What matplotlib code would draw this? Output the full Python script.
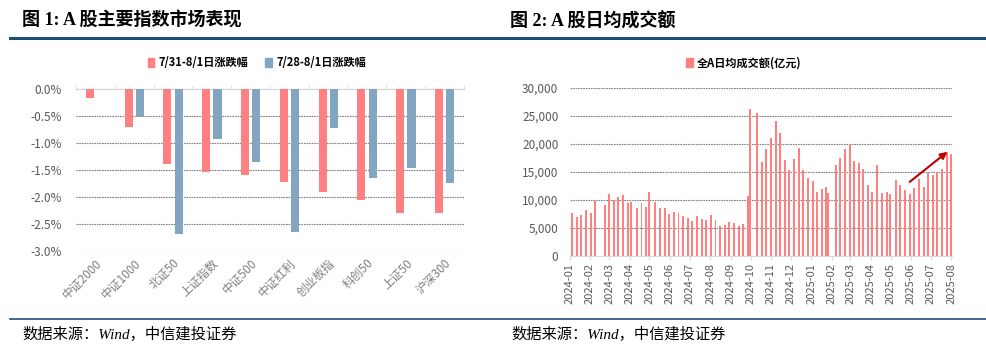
import matplotlib
matplotlib.use("Agg")
import matplotlib.pyplot as plt
import matplotlib.dates as mdates
from matplotlib.patches import Patch
import numpy as np
import pandas as pd

plt.rcParams['font.family'] = ['Noto Sans CJK SC', 'DejaVu Sans']
plt.rcParams['axes.unicode_minus'] = False

# ---- chart 1: index returns (%)
indices = ['中证2000', '中证1000', '北证50', '上证指数', '中证500',
           '中证红利', '创业板指', '科创50', '上证50', '沪深300']
chg_day = [-0.17, -0.70, -1.38, -1.53, -1.60, -1.72, -1.90, -2.05, -2.30, -2.30]
chg_week = [0.00, -0.52, -2.69, -0.92, -1.35, -2.64, -0.73, -1.64, -1.47, -1.74]
label_day = '7/31-8/1日涨跌幅'
label_week = '7/28-8/1日涨跌幅'

# ---- chart 2: weekly average turnover (亿元)
week_end = [
    '2024-01-05', '2024-01-12', '2024-01-19', '2024-01-26', '2024-02-02', '2024-02-08',
    '2024-02-23', '2024-03-01', '2024-03-08', '2024-03-15', '2024-03-22', '2024-03-29',
    '2024-04-03', '2024-04-12', '2024-04-19', '2024-04-26', '2024-04-30', '2024-05-10',
    '2024-05-17', '2024-05-24', '2024-05-31', '2024-06-07', '2024-06-14', '2024-06-21',
    '2024-06-28', '2024-07-05', '2024-07-12', '2024-07-19', '2024-07-26', '2024-08-02',
    '2024-08-09', '2024-08-16', '2024-08-23', '2024-08-30', '2024-09-06', '2024-09-13',
    '2024-09-20', '2024-09-27', '2024-09-30', '2024-10-11', '2024-10-18', '2024-10-25',
    '2024-11-01', '2024-11-08', '2024-11-15', '2024-11-22', '2024-11-29', '2024-12-06',
    '2024-12-13', '2024-12-20', '2024-12-27', '2025-01-03', '2025-01-10', '2025-01-17',
    '2025-01-24', '2025-01-27', '2025-02-07', '2025-02-14', '2025-02-21', '2025-02-28',
    '2025-03-07', '2025-03-14', '2025-03-21', '2025-03-28', '2025-04-03', '2025-04-11',
    '2025-04-18', '2025-04-25', '2025-04-30', '2025-05-09', '2025-05-16', '2025-05-23',
    '2025-05-30', '2025-06-06', '2025-06-13', '2025-06-20', '2025-06-27', '2025-07-04',
    '2025-07-11', '2025-07-18', '2025-07-25', '2025-08-01',
]
turnover = [
    7540, 6950, 7190, 8080, 7540, 9800,
    9090, 11050, 9980, 10450, 10870, 9440,
    9620, 8430, 9440, 8610, 11290, 9560,
    8550, 8550, 7480, 7780, 7540, 7130,
    6700, 6120, 7010, 6530, 6360, 7190,
    6420, 5290, 5410, 6000, 5820, 5230,
    5640, 10630, 26140, 25480, 16690, 19130,
    20970, 24000, 21920, 17110, 15330, 17350,
    19310, 15330, 13800, 13370, 11400, 12000,
    12300, 11230, 16160, 17520, 19070, 19960,
    16990, 16510, 15440, 12590, 11350, 16160,
    11110, 11460, 11050, 13600, 12590, 11760,
    10930, 12060, 13660, 12240, 14850, 14430,
    14970, 15440, 18530, 18180,
]
label_turnover = '全A日均成交额(亿元)'

RED = '#FF8080'
BLUE = '#82A6BF'
GRID = '#7F7F7F'
TXT = '#595959'
NAVY = '#1B4F7A'

fig = plt.figure(figsize=(9.87, 3.53), dpi=100)

title_font = ['Liberation Serif', 'Noto Sans CJK SC']
fig.text(22 / 987, 1 - 21 / 353, '图 1: A 股主要指数市场表现', family=title_font,
         fontsize=13, fontweight='bold', va='center', ha='left', color='black')
fig.text(510 / 987, 1 - 21 / 353, '图 2: A 股日均成交额', family=title_font,
         fontsize=13, fontweight='bold', va='center', ha='left', color='black')

# header / footer rules
fig.add_artist(plt.Line2D([10 / 987, 1.0], [1 - 38 / 353] * 2, color=NAVY, lw=2.2))
fig.add_artist(plt.Line2D([10 / 987, 1.0], [1 - 319 / 353] * 2, color=NAVY, lw=1.2))
for xs in (22, 511):
    fig.text(xs / 987, 1 - 334 / 353, '数据来源：Wind，中信建投证券', family=title_font,
             fontsize=11, style='italic', va='center', ha='left', color='black')

# ---------------- left chart
ax1 = fig.add_axes([76 / 987, 1 - 251 / 353, 388 / 987, 162 / 353])
x = np.arange(len(indices))
w = 0.21
ax1.bar(x - 0.145, chg_day, w, color=RED, label=label_day, zorder=3)
ax1.bar(x + 0.145, chg_week, w, color=BLUE, label=label_week, zorder=3)
ax1.set_xlim(-0.5, len(indices) - 0.5)
ax1.set_ylim(-3.0, 0.0)
ax1.set_yticks(np.arange(-3.0, 0.01, 0.5))
ax1.set_yticklabels([f'{v:.1f}%' for v in np.arange(-3.0, 0.01, 0.5)])
for v in np.arange(-3.0, -0.01, 0.5):
    ax1.axhline(v, color=GRID, lw=0.8, ls=(0, (1.5, 0.8)), zorder=1)
for s in ['left', 'right', 'bottom']:
    ax1.spines[s].set_visible(False)
ax1.spines['top'].set_color('#D9D9D9')
ax1.spines['top'].set_linewidth(1.0)
ax1.set_xticks(x)
ax1.set_xticklabels(indices, rotation=45, ha='right', rotation_mode='anchor')
ax1.set_xticks(np.arange(-0.5, len(indices), 1.0), minor=True)
ax1.tick_params(axis='x', which='major', length=0, labelsize=8.5, labelcolor='#7F7F7F', pad=4)
ax1.tick_params(axis='x', which='minor', top=True, bottom=False, length=3,
                color='#D9D9D9', direction='out')
ax1.tick_params(axis='y', length=0, labelsize=8.5, labelcolor=TXT, pad=10)

fig.legend(handles=[Patch(color=RED), Patch(color=BLUE)], labels=[label_day, label_week],
           loc='center', bbox_to_anchor=(257 / 987, 1 - 63 / 353), ncol=2, frameon=False,
           handlelength=0.6, handleheight=0.9, handletextpad=0.4,
           columnspacing=1.5, prop={'weight': 'bold', 'size': 8})

# ---------------- right chart
ax2 = fig.add_axes([569.5 / 987, 1 - 255.7 / 353, 382.5 / 987, 168 / 353])
dates = pd.to_datetime(week_end)
ax2.bar(dates, turnover, width=3.0, color=RED, label=label_turnover, zorder=3)
ax2.set_xlim(mdates.date2num(pd.Timestamp('2024-01-01')),
             mdates.date2num(pd.Timestamp('2025-08-01')) + 1.0)
ax2.set_ylim(0, 30000)
ax2.set_yticks(np.arange(0, 30001, 5000))
ax2.yaxis.set_major_formatter(matplotlib.ticker.FuncFormatter(lambda v, p: f'{int(v):,}'))
for v in np.arange(5000, 30001, 5000):
    ax2.axhline(v, color=GRID, lw=0.8, ls=(0, (1.5, 0.8)), zorder=1)
for s in ['left', 'right', 'top']:
    ax2.spines[s].set_visible(False)
ax2.spines['bottom'].set_color('#D9D9D9')
ax2.xaxis.set_major_locator(mdates.MonthLocator())
ax2.xaxis.set_major_formatter(mdates.DateFormatter('%Y-%m'))
ax2.tick_params(axis='x', length=3, color='#D9D9D9', labelsize=8, labelcolor=TXT,
                rotation=90, pad=2)
ax2.tick_params(axis='y', length=0, labelsize=8.5, labelcolor=TXT, pad=8)

ax2.annotate('', xy=(pd.Timestamp('2025-07-26'), 18550),
             xytext=(pd.Timestamp('2025-05-30'), 13180),
             arrowprops=dict(arrowstyle='-|>', color='#C00000', lw=1.5,
                             mutation_scale=10, shrinkA=0, shrinkB=0), zorder=5)

fig.legend(handles=[Patch(color=RED)], labels=[label_turnover],
           loc='center', bbox_to_anchor=(744 / 987, 1 - 63 / 353), frameon=False,
           handlelength=0.6, handleheight=0.9, handletextpad=0.4,
           prop={'weight': 'bold', 'size': 8})

fig.savefig('out.png', dpi=100)
